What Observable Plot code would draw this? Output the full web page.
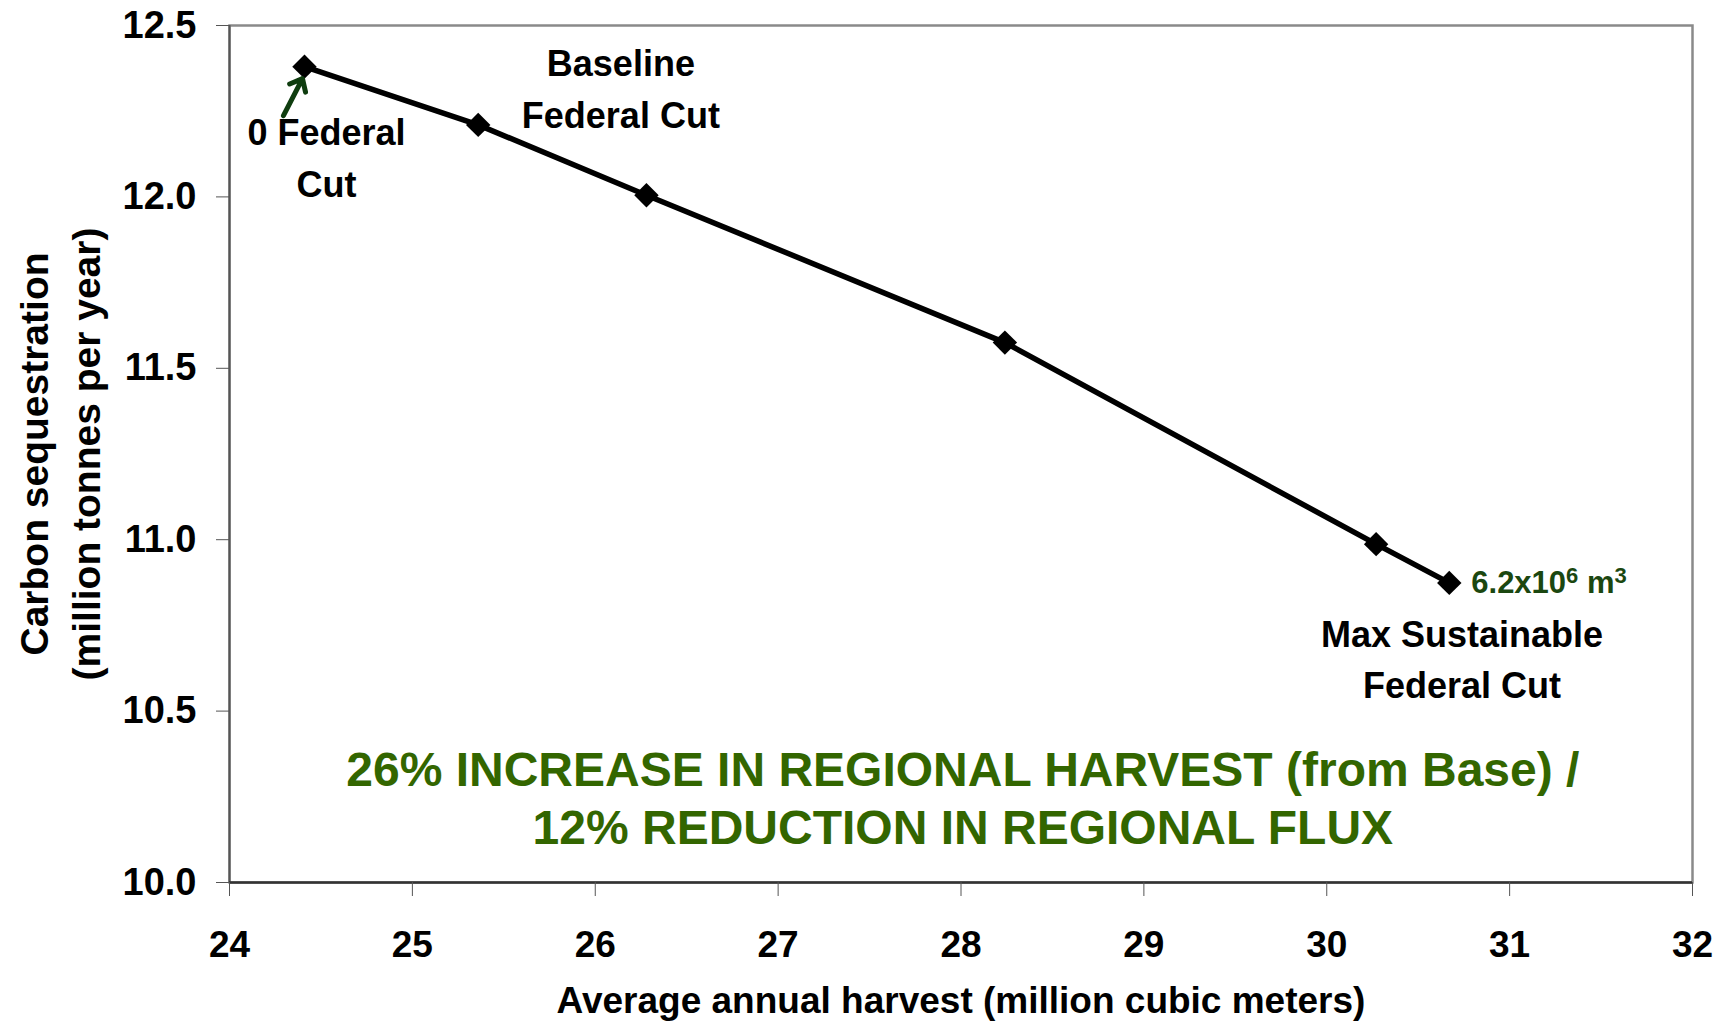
<!DOCTYPE html>
<html><head><meta charset="utf-8">
<script src="https://cdn.jsdelivr.net/npm/d3@7"></script>
<script src="https://cdn.jsdelivr.net/npm/@observablehq/plot@0.6"></script>
<style>
body{margin:0;background:#fff}
svg{font-family:"Liberation Sans",Arial,Helvetica,sans-serif;font-weight:bold}
</style>
</head><body><div id="chart"></div>
<script>
const harvest = [24.41, 25.36, 26.28, 28.24, 30.27, 30.67];
const sequestration = [12.38, 12.21, 12.005, 11.575, 10.987, 10.874];
const xTicks = [24, 25, 26, 27, 28, 29, 30, 31, 32];
const yTicks = [10.0, 10.5, 11.0, 11.5, 12.0, 12.5];
const xLabel = "Average annual harvest (million cubic meters)";
const yLabel = "Carbon sequestration\n(million tonnes per year)";
const annoText = ["0 Federal\nCut", "Baseline\nFederal Cut", "Max Sustainable\nFederal Cut"];
const annoX = [24.53, 26.14, 30.74];
const annoY = [12.125, 12.326, 10.661];
const maxLabelParts = ["6.2x10", "6", " m", "3"];
const summary = "26% INCREASE IN REGIONAL HARVEST (from Base) /\n12% REDUCTION IN REGIONAL FLUX";
const summaryX = [28.01];
const summaryY = [10.251];
const arrowFrom = [24.295, 12.237];
const arrowTo = [24.399, 12.345];

const points = harvest.map((h, i) => ({h, s: sequestration[i]}));
const annos = annoText.map((t, i) => ({t, x: annoX[i], y: annoY[i]}));
const last = points[points.length - 1];

const chart = Plot.plot({
  width: 1726, height: 1021,
  marginLeft: 229, marginRight: 34, marginTop: 25, marginBottom: 139,
  style: {fontFamily: '"Liberation Sans", Arial, sans-serif', fontWeight: "bold", background: "#fff"},
  x: {domain: [24, 32]},
  y: {domain: [10, 12.5]},
  marks: [
    Plot.frame({stroke: "#8a8a8a", strokeWidth: 2.5}),
    Plot.ruleX([24], {stroke: "#555", strokeWidth: 2}),
    Plot.ruleY([10], {stroke: "#333", strokeWidth: 2.5}),
    Plot.axisX({ticks: xTicks, tickSize: 14, tickPadding: 34, fontSize: 37, label: null, tickFormat: d => String(d), stroke: "#555"}),
    Plot.axisY({ticks: yTicks, tickSize: 13, tickPadding: 20, fontSize: 38, label: null, tickFormat: d3.format(".1f"), stroke: "#555"}),
    Plot.line(points, {x: "h", y: "s", stroke: "#000", strokeWidth: 5.5}),
    Plot.dot(points, {x: "h", y: "s", symbol: "diamond2", r: 11, fill: "#000", stroke: "none"}),
    Plot.arrow([0], {x1: () => arrowFrom[0], y1: () => arrowFrom[1], x2: () => arrowTo[0], y2: () => arrowTo[1], stroke: "#0f3d0f", strokeWidth: 5, headLength: 12, headAngle: 80}),
    Plot.text(annos, {x: "x", y: "y", text: "t", fontSize: 36, lineHeight: 1.44, lineAnchor: "middle", fill: "#000"}),
    Plot.text([last], {x: "h", y: "s", text: () => maxLabelParts.join(""), textAnchor: "start", dx: 22, fontSize: 31, fill: "#1b4710", className: "maxlabel"}),
    Plot.text([summary], {x: () => summaryX[0], y: () => summaryY[0], text: d => d, fontSize: 48, lineHeight: 1.2, lineAnchor: "middle", fill: "#336600"}),
    Plot.text([xLabel], {frameAnchor: "bottom", text: d => d, dy: 119, lineAnchor: "middle", fontSize: 37, fill: "#000"}),
    Plot.text([yLabel], {frameAnchor: "left", text: d => d, dx: -172, rotate: -90, textAnchor: "middle", lineAnchor: "middle", lineHeight: 1.33, fontSize: 39, fill: "#000"})
  ]
});
// superscripts for the max label
d3.select(chart).selectAll("g.maxlabel text").each(function() {
  const t = d3.select(this);
  t.text(null);
  maxLabelParts.forEach((p, i) => {
    const sp = t.append("tspan").text(p);
    if (i % 2 === 1) sp.attr("font-size", 22).attr("dy", "-0.45em");
    else if (i > 0) sp.attr("dy", "0.31em");
  });
});
document.getElementById("chart").appendChild(chart);
</script>
</body></html>
